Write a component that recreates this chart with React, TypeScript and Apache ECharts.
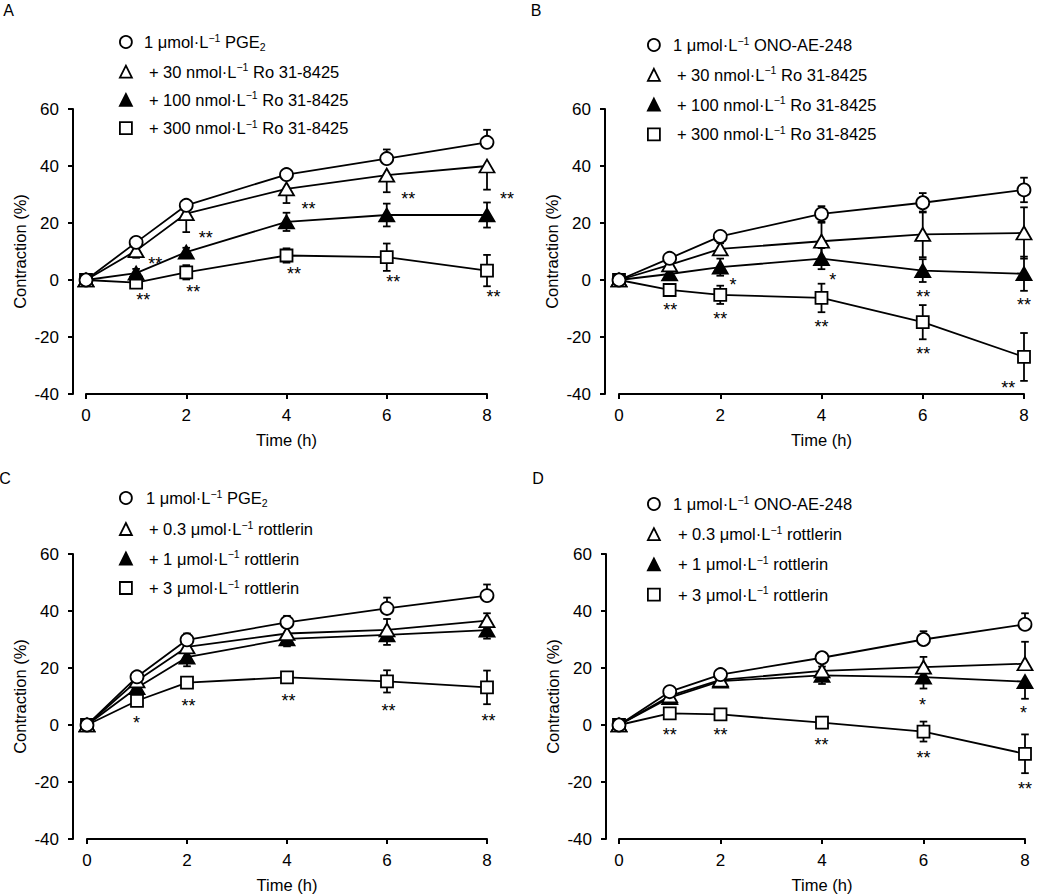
import React, { useEffect, useRef } from 'react';
import * as echarts from 'echarts';

const FONT = '"Liberation Sans", Arial, Helvetica, sans-serif';

// ---------- shared axes ----------
const timesH = [0, 1, 2, 4, 6, 8];
const xTitle = 'Time (h)';
const yTitle = 'Contraction (%)';
const panelLetters = ['A', 'B', 'C', 'D'];

// ---------- legend labels (rich text) ----------
const legendA = [
  '{t|1 μmol·L}{sup|−1}{t| PGE}{sub|2}',
  '{t|+ 30 nmol·L}{sup|−1}{t| Ro 31-8425}',
  '{t|+ 100 nmol·L}{sup|−1}{t| Ro 31-8425}',
  '{t|+ 300 nmol·L}{sup|−1}{t| Ro 31-8425}',
];
const legendB = [
  '{t|1 μmol·L}{sup|−1}{t| ONO-AE-248}',
  '{t|+ 30 nmol·L}{sup|−1}{t| Ro 31-8425}',
  '{t|+ 100 nmol·L}{sup|−1}{t| Ro 31-8425}',
  '{t|+ 300 nmol·L}{sup|−1}{t| Ro 31-8425}',
];
const legendC = [
  '{t|1 μmol·L}{sup|−1}{t| PGE}{sub|2}',
  '{t|+ 0.3 μmol·L}{sup|−1}{t| rottlerin}',
  '{t|+ 1 μmol·L}{sup|−1}{t| rottlerin}',
  '{t|+ 3 μmol·L}{sup|−1}{t| rottlerin}',
];
const legendD = [
  '{t|1 μmol·L}{sup|−1}{t| ONO-AE-248}',
  '{t|+ 0.3 μmol·L}{sup|−1}{t| rottlerin}',
  '{t|+ 1 μmol·L}{sup|−1}{t| rottlerin}',
  '{t|+ 3 μmol·L}{sup|−1}{t| rottlerin}',
];

// ---------- Panel A ----------
const aCtrl = [0, 13.2, 26.2, 37.0, 42.6, 48.3];
const aCtrlErr = [1.2, 1.5, 1.8, 1.7, 3.2, 4.4];
const aLow = [0, 10.3, 23.3, 32.0, 36.8, 40.0];
const aLowErr = [1.2, 2.5, 6.5, 5.0, 6.0, 8.3];
const aMid = [0, 2.4, 9.8, 20.4, 22.8, 22.8];
const aMidErr = [1.2, 1.5, 1.5, 3.2, 4.0, 4.4];
const aHigh = [0, -0.9, 2.7, 8.6, 8.0, 3.3];
const aHighErr = [1.2, 1.5, 2.5, 2.5, 4.8, 5.5];
const aStarX = [1.38, 1.14, 2.39, 2.14, 4.44, 4.15, 6.43, 6.13, 8.4, 8.13];
const aStarY = [7.0, -5.9, 15.8, -2.9, 26.1, 3.3, 29.8, 0.6, 29.8, -4.9];
const aStarText = ['**', '**', '**', '**', '**', '**', '**', '**', '**', '**'];

// ---------- Panel B ----------
const bCtrl = [0, 7.6, 15.3, 23.2, 27.1, 31.6];
const bCtrlErr = [1.2, 1.0, 1.5, 2.7, 3.4, 4.3];
const bLow = [0, 5.3, 10.9, 13.6, 16.0, 16.5];
const bLowErr = [1.2, 1.0, 2.0, 6.5, 8.0, 9.0];
const bMid = [0, 2.1, 4.5, 7.5, 3.3, 2.2];
const bMidErr = [1.2, 1.0, 3.0, 3.7, 4.0, 6.0];
const bHigh = [0, -3.5, -5.2, -6.3, -14.8, -27.0];
const bHighErr = [1.2, 1.0, 3.2, 5.0, 6.0, 8.4];
const bStarX = [2.25, 1.01, 2.0, 4.22, 4.0, 6.01, 6.01, 8.0, 7.69];
const bStarY = [-0.6, -9.4, -12.3, 1.4, -15.2, -4.7, -24.9, -7.6, -36.8];
const bStarText = ['*', '**', '**', '*', '**', '**', '**', '**', '**'];

// ---------- Panel C ----------
const cCtrl = [0, 16.9, 29.9, 36.0, 40.9, 45.4];
const cCtrlErr = [1.2, 1.2, 2.2, 2.3, 3.8, 3.9];
const cLow = [0, 15.5, 27.4, 32.1, 33.4, 36.6];
const cLowErr = [1.2, 1.5, 2.0, 2.0, 3.8, 2.6];
const cMid = [0, 13.1, 23.8, 30.2, 31.6, 33.3];
const cMidErr = [1.2, 1.5, 3.2, 2.6, 3.5, 3.0];
const cHigh = [0, 8.5, 14.9, 16.7, 15.3, 13.2];
const cHighErr = [1.2, 1.5, 1.2, 1.2, 3.9, 5.9];
const cStarX = [0.99, 2.03, 4.03, 6.03, 8.03];
const cStarY = [2.0, 7.8, 9.8, 6.3, 2.8];
const cStarText = ['*', '**', '**', '**', '**'];

// ---------- Panel D ----------
const dCtrl = [0, 11.7, 17.7, 23.6, 30.0, 35.3];
const dCtrlErr = [1.2, 1.2, 1.5, 1.5, 2.9, 3.9];
const dLow = [0, 10.2, 15.8, 19.0, 20.3, 21.5];
const dLowErr = [1.2, 1.5, 1.5, 1.5, 3.6, 7.7];
const dMid = [0, 9.6, 15.4, 17.4, 16.8, 15.2];
const dMidErr = [1.2, 1.5, 1.5, 3.0, 4.0, 6.0];
const dHigh = [0, 4.1, 3.7, 0.8, -2.3, -10.1];
const dHighErr = [1.2, 1.5, 1.2, 1.5, 3.5, 6.8];
const dStarX = [1.0, 2.0, 3.99, 5.98, 6.0, 7.97, 8.0];
const dStarY = [-2.4, -2.4, -5.9, 8.4, -10.3, 5.3, -21.4];
const dStarText = ['**', '**', '**', '*', '**', '*', '**'];

type Dir = 'up' | 'down' | 'both';

const panels = [
  {
    legend: legendA,
    values: [aCtrl, aLow, aMid, aHigh],
    errs: [aCtrlErr, aLowErr, aMidErr, aHighErr],
    dirs: ['up', 'down', 'both', 'both'] as Dir[],
    stars: [aStarX, aStarY, aStarText] as [number[], number[], string[]],
  },
  {
    legend: legendB,
    values: [bCtrl, bLow, bMid, bHigh],
    errs: [bCtrlErr, bLowErr, bMidErr, bHighErr],
    dirs: ['both', 'both', 'both', 'both'] as Dir[],
    stars: [bStarX, bStarY, bStarText] as [number[], number[], string[]],
  },
  {
    legend: legendC,
    values: [cCtrl, cLow, cMid, cHigh],
    errs: [cCtrlErr, cLowErr, cMidErr, cHighErr],
    dirs: ['up', 'up', 'down', 'both'] as Dir[],
    stars: [cStarX, cStarY, cStarText] as [number[], number[], string[]],
  },
  {
    legend: legendD,
    values: [dCtrl, dLow, dMid, dHigh],
    errs: [dCtrlErr, dLowErr, dMidErr, dHighErr],
    dirs: ['up', 'up', 'down', 'both'] as Dir[],
    stars: [dStarX, dStarY, dStarText] as [number[], number[], string[]],
  },
];

// ---------- layout / style ----------
const layouts = [
  { left: 86, top: 109, width: 401, height: 285, yOffset: 13, lgLeft: 119, lgTop: 32, lgGap: 9.7, pad1: 7, pad2: 12, lx: 8.5, ly: 10 },
  { left: 619, top: 109, width: 405, height: 285, yOffset: 14, lgLeft: 647, lgTop: 35, lgGap: 11.3, pad1: 8, pad2: 12, lx: 536, ly: 10 },
  { left: 87, top: 554, width: 400, height: 285, yOffset: 14, lgLeft: 119, lgTop: 488, lgGap: 11, pad1: 9, pad2: 12, lx: 5, ly: 478 },
  { left: 619, top: 554, width: 406, height: 285, yOffset: 13, lgLeft: 647, lgTop: 494, lgGap: 11.7, pad1: 8, pad2: 13, lx: 538, ly: 478 },
];

const symbols = ['circle', 'triangle', 'triangle', 'rect'];
const symbolSizes: any[] = [13, [15, 13], [15, 13], 12];
const fills = ['#ffffff', '#ffffff', '#000000', '#ffffff'];
const LW = 1.8;
const AXW = 2;

const tickText = { color: '#000', fontSize: 17, fontFamily: FONT };
const titleText = { color: '#000', fontSize: 16.5, fontFamily: FONT };

function buildOption() {
  const grid: any[] = [];
  const xAxis: any[] = [];
  const yAxis: any[] = [];
  const series: any[] = [];
  const legend: any[] = [];
  const graphic: any[] = [];

  panels.forEach((p, i) => {
    const l = layouts[i];
    grid.push({ left: l.left, top: l.top, width: l.width, height: l.height });
    xAxis.push({
      type: 'value', gridIndex: i, min: 0, max: 8, interval: 2, position: 'bottom',
      axisLine: { show: true, onZero: false, lineStyle: { color: '#000', width: AXW } },
      axisTick: { show: true, inside: false, length: 5, lineStyle: { color: '#000', width: AXW } },
      axisLabel: { ...tickText, margin: 13 },
      splitLine: { show: false },
      name: xTitle, nameLocation: 'middle', nameGap: 37,
      nameTextStyle: { ...titleText },
    });
    yAxis.push({
      type: 'value', gridIndex: i, min: -40, max: 60, interval: 20, position: 'left', offset: l.yOffset,
      axisLine: { show: true, onZero: false, lineStyle: { color: '#000', width: AXW } },
      axisTick: { show: true, inside: false, length: 5, lineStyle: { color: '#000', width: AXW } },
      axisLabel: { ...tickText, margin: 14 },
      splitLine: { show: false },
      name: yTitle, nameLocation: 'middle', nameGap: 45,
      nameTextStyle: { ...titleText },
    });

    // error bars
    p.values.forEach((vals, k) => {
      const dir = p.dirs[k];
      series.push({
        type: 'custom', xAxisIndex: i, yAxisIndex: i, z: 1, silent: true,
        encode: { x: 0, y: 1 },
        data: timesH.map((t, j) => [t, vals[j], p.errs[k][j]]),
        renderItem: (params: any, api: any) => {
          const x = api.value(0);
          const y = api.value(1);
          const e = api.value(2);
          const top = dir === 'down' ? y : y + e;
          const bot = dir === 'up' ? y : y - e;
          const pt = api.coord([x, top]);
          const pb = api.coord([x, bot]);
          const st = { stroke: '#000', lineWidth: LW };
          const half = 3.8;
          const children: any[] = [
            { type: 'line', shape: { x1: pt[0], y1: pt[1], x2: pb[0], y2: pb[1] }, style: st },
          ];
          if (dir !== 'down') children.push({ type: 'line', shape: { x1: pt[0] - half, y1: pt[1], x2: pt[0] + half, y2: pt[1] }, style: st });
          if (dir !== 'up') children.push({ type: 'line', shape: { x1: pb[0] - half, y1: pb[1], x2: pb[0] + half, y2: pb[1] }, style: st });
          return { type: 'group', children };
        },
      });
    });

    // connecting lines
    p.values.forEach((vals) => {
      series.push({
        type: 'line', xAxisIndex: i, yAxisIndex: i, z: 2, silent: true,
        symbol: 'none', data: timesH.map((t, j) => [t, vals[j]]),
        lineStyle: { color: '#000', width: LW },
      });
    });

    // markers (control drawn last so it sits on top)
    [3, 2, 1, 0].forEach((k) => {
      series.push({
        type: 'scatter', name: p.legend[k], xAxisIndex: i, yAxisIndex: i, z: 3, silent: true,
        symbol: symbols[k], symbolSize: symbolSizes[k],
        data: timesH.map((t, j) => [t, p.values[k][j]]),
        itemStyle: { color: fills[k], borderColor: '#000', borderWidth: LW, opacity: 1 },
      });
    });

    // significance asterisks
    const [sx, sy, stx] = p.stars;
    series.push({
      type: 'custom', xAxisIndex: i, yAxisIndex: i, z: 5, silent: true,
      encode: { x: 0, y: 1 },
      data: sx.map((x, j) => [x, sy[j], j]),
      renderItem: (params: any, api: any) => {
        const pt = api.coord([api.value(0), api.value(1)]);
        const txt = stx[api.value(2)];
        return {
          type: 'text', x: pt[0], y: pt[1] + 3.5,
          style: { text: txt, fill: '#000', fontSize: 18, fontFamily: FONT, align: 'center', verticalAlign: 'middle' },
        };
      },
    });

    legend.push({
      orient: 'vertical', left: l.lgLeft, top: l.lgTop, padding: 0, itemGap: l.lgGap,
      itemWidth: 12, itemHeight: 12, selectedMode: false,
      textStyle: {
        ...titleText,
        rich: {
          t: { fontSize: 16.5, fontFamily: FONT, color: '#000', lineHeight: 20 },
          sup: { fontSize: 10.5, fontFamily: FONT, color: '#000', lineHeight: 12, verticalAlign: 'top' },
          sub: { fontSize: 10.5, fontFamily: FONT, color: '#000', lineHeight: 12, verticalAlign: 'bottom' },
        },
      },
      data: p.legend.map((n, k) => ({
        name: n,
        icon: symbols[k],
        itemStyle: { color: fills[k], borderColor: '#000', borderWidth: LW },
        textStyle: { padding: [0, 0, 0, k === 0 ? l.pad1 : l.pad2] },
      })),
    });

    graphic.push({
      type: 'text', x: l.lx, y: l.ly,
      style: { text: panelLetters[i], fill: '#000', fontSize: 16, fontFamily: FONT, align: 'center', verticalAlign: 'middle' },
    });
  });

  return {
    animation: false,
    backgroundColor: '#ffffff',
    grid, xAxis, yAxis, series, legend, graphic,
  };
}

export default function App() {
  const ref = useRef<HTMLDivElement>(null);
  useEffect(() => {
    if (!ref.current) return;
    const chart = echarts.init(ref.current, undefined, { renderer: 'svg' });
    chart.setOption(buildOption() as any);
    return () => chart.dispose();
  }, []);
  return (
    <div
      ref={ref}
      style={{ position: 'absolute', left: 0, top: 0, width: 1039, height: 896, background: '#fff' }}
    />
  );
}
